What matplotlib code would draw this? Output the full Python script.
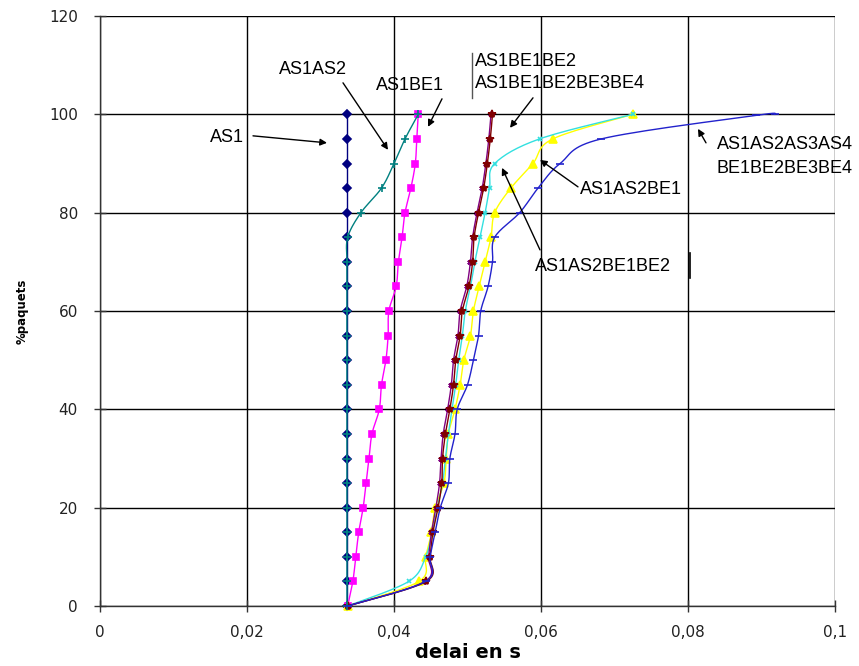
import numpy as np
import matplotlib
matplotlib.use("Agg")
import matplotlib.pyplot as plt

# ---------------- data ----------------
pct = [0, 5, 10, 15, 20, 25, 30, 35, 40, 45, 50, 55, 60, 65, 70, 75, 80, 85, 90, 95, 100]

as1 = [0.0336, 0.0336, 0.0336, 0.0336, 0.0336, 0.0336, 0.0336, 0.0336, 0.0336, 0.0336, 0.0336,
       0.0336, 0.0336, 0.0336, 0.0336, 0.0336, 0.0336, 0.0336, 0.0336, 0.0336, 0.0336]
as1be1 = [0.0337, 0.0344, 0.0348, 0.0352, 0.0358, 0.0362, 0.0366, 0.0370, 0.0380, 0.0383, 0.0389,
          0.0392, 0.0393, 0.0403, 0.0406, 0.0411, 0.0415, 0.0423, 0.0429, 0.0431, 0.0433]
as1as2be1 = [0.0337, 0.0434, 0.0443, 0.0451, 0.0456, 0.0468, 0.0471, 0.0474, 0.0483, 0.0490, 0.0495,
             0.0504, 0.0508, 0.0516, 0.0524, 0.0532, 0.0537, 0.0559, 0.0589, 0.0616, 0.0725]
as1as2be1be2 = [0.0337, 0.0420, 0.0443, 0.0452, 0.0459, 0.0466, 0.0470, 0.0474, 0.0479, 0.0484, 0.0488,
                0.0493, 0.0497, 0.0504, 0.0510, 0.0517, 0.0524, 0.0530, 0.0537, 0.0598, 0.0725]
as1be1be2be3be4 = [0.0337, 0.0442, 0.0447, 0.0451, 0.0457, 0.0462, 0.0464, 0.0467, 0.0473, 0.0478, 0.0481,
                   0.0487, 0.0490, 0.0499, 0.0504, 0.0507, 0.0513, 0.0520, 0.0525, 0.0529, 0.0532]
as1be1be2 = [0.0337, 0.0444, 0.0449, 0.0453, 0.0460, 0.0465, 0.0466, 0.0470, 0.0476, 0.0481, 0.0484,
             0.0490, 0.0493, 0.0502, 0.0507, 0.0509, 0.0515, 0.0522, 0.0527, 0.0531, 0.0534]
as1as2 = [0.0336, 0.0336, 0.0336, 0.0336, 0.0336, 0.0336, 0.0336, 0.0336, 0.0336, 0.0336, 0.0336,
          0.0336, 0.0336, 0.0336, 0.0336, 0.0337, 0.0355, 0.0383, 0.0400, 0.0415, 0.0433]
pct_all8 = [0, 5, 10, 15, 20, 25, 30, 35, 40, 45, 50, 55, 60, 65, 70, 75, 80, 85, 90, 95, 99.8, 100]
as_all8 = [0.0337, 0.0443, 0.0449, 0.0456, 0.0463, 0.0474, 0.0476, 0.0483, 0.0486, 0.0500, 0.0508,
           0.0515, 0.0518, 0.0528, 0.0534, 0.0537, 0.0571, 0.0596, 0.0626, 0.0682, 0.0893, 0.0918]

x_ticks = [0, 0.02, 0.04, 0.06, 0.08, 0.1]
x_ticklabels = ["0", "0,02", "0,04", "0,06", "0,08", "0,1"]
y_ticks = [0, 20, 40, 60, 80, 100, 120]


def smooth(xs, ys, n=16):
    """Excel-like smoothed line (cubic Bezier, Catmull-Rom style control points)."""
    P = np.column_stack([xs, ys]).astype(float)
    m = len(P)
    out = [P[0]]
    t = np.linspace(0, 1, n + 1)[1:, None]
    for i in range(m - 1):
        p0 = P[i - 1] if i > 0 else P[i]
        p1 = P[i]
        p2 = P[i + 1]
        p3 = P[i + 2] if i + 2 < m else P[i + 1]
        c1 = p1 + (p2 - p0) / 6.0
        c2 = p2 - (p3 - p1) / 6.0
        seg = ((1 - t) ** 3) * p1 + 3 * ((1 - t) ** 2) * t * c1 + 3 * (1 - t) * t ** 2 * c2 + t ** 3 * p2
        out.extend(seg)
    out = np.array(out)
    return out[:, 0], out[:, 1]


fig = plt.figure(figsize=(8.59, 6.66), dpi=100)
ax = fig.add_axes([100 / 859, 60 / 666, 735 / 859, 590 / 666])

series = [
    (as1, pct, "#000080", "D", 3.8, 2),
    (as1be1, pct, "#FF00FF", "s", 5.0, 3),
    (as1as2be1, pct, "#FFFF00", "^", 5.5, 3),
    (as1as2be1be2, pct, "#33E0E0", "x", 3.5, 3),
    (as1be1be2be3be4, pct, "#800080", (6, 2, 0), 4.5, 3),
    (as1be1be2, pct, "#800000", "*", 6.0, 3),
    (as1as2, pct, "#008080", "+", 6.0, 3),
    (as_all8, pct_all8, "#2222CC", "_", 6.0, 3),
]

for xs, ys, col, mk, ms, z in series:
    sx, sy = smooth(xs, ys)
    ax.plot(sx, sy, color=col, lw=1.0, zorder=z, clip_on=False)
    ax.plot(xs, ys, ls="none", marker=mk, ms=ms, color=col, mec=col, mfc=col,
            mew=1.2, zorder=z, clip_on=False)

ax.set_xlim(0, 0.1)
ax.set_ylim(0, 120)
ax.set_xticks(x_ticks)
ax.set_xticklabels(x_ticklabels)
ax.set_yticks(y_ticks)
ax.grid(True, color="black", lw=1.0, zorder=0)
ax.set_axisbelow(True)
for s in ["top", "right"]:
    ax.spines[s].set_visible(False)
for s in ["left", "bottom"]:
    ax.spines[s].set_color("#333333")
    ax.spines[s].set_linewidth(1.0)
ax.tick_params(direction="inout", length=8, width=1.0, colors="#333333", labelsize=11,
               labelcolor="#222222")
ax.tick_params(axis="x", pad=10)
ax.tick_params(axis="y", pad=12)

ax.set_xlabel("delai en s", fontsize=14, fontweight="heavy", va="center")
ax.xaxis.set_label_coords(0.5, -(653 - 606) / 590)
ax.set_ylabel("%paquets", fontsize=8.5, fontweight="heavy", va="center")
ax.yaxis.set_label_coords(-(100 - 22) / 735, 0.5)


def px(x, y):
    return ((x - 100) / 7350.0, (606 - y) / 4.915)


tkw = dict(fontsize=13, family="Liberation Sans", color="black", va="center")
ax.text(*px(244, 138), "AS1", ha="right", **tkw)
ax.text(*px(313, 70), "AS1AS2", ha="center", **tkw)
ax.text(*px(410, 86), "AS1BE1", ha="center", **tkw)
ax.text(*px(475, 62), "AS1BE1BE2", ha="left", **tkw)
ax.text(*px(475, 84), "AS1BE1BE2BE3BE4", ha="left", **tkw)
ax.text(*px(580, 190), "AS1AS2BE1", ha="left", **tkw)
ax.text(*px(535, 267), "AS1AS2BE1BE2", ha="left", **tkw)
ax.text(*px(717, 145), "AS1AS2AS3AS4", ha="left", **tkw)
ax.text(*px(717, 169), "BE1BE2BE3BE4", ha="left", **tkw)

arrows = [
    ((253, 136), (327, 143)),
    ((343, 83), (388, 150)),
    ((442, 99), (428, 127)),
    ((533, 98), (510, 128)),
    ((578, 187), (540, 160)),
    ((540, 250), (502, 168)),
    ((706, 143), (698, 129)),
]
for tail, head in arrows:
    ax.annotate("", xy=px(*head), xytext=px(*tail),
                arrowprops=dict(arrowstyle="-|>", color="black", lw=1.0,
                                mutation_scale=10, shrinkA=0, shrinkB=0),
                annotation_clip=False)

# small vertical bars seen next to labels
ax.plot([px(472, 53)[0], px(472, 98)[0]], [px(472, 53)[1], px(472, 98)[1]],
        color="#555555", lw=1.0, clip_on=False)
ax.plot([px(690, 253)[0], px(690, 278)[0]], [px(690, 253)[1], px(690, 278)[1]],
        color="black", lw=1.2, clip_on=False)

fig.savefig("out.png", dpi=100)
